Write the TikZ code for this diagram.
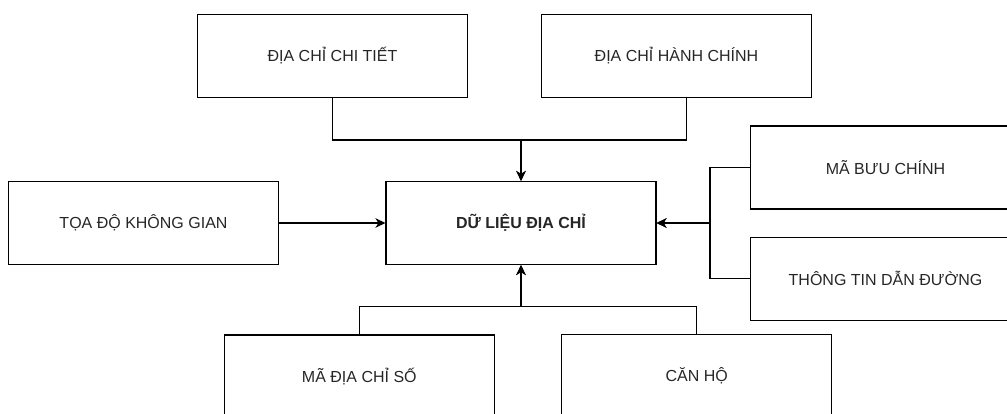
\documentclass[tikz,border=0pt]{standalone}
\usepackage{fontspec}
\setmainfont{Liberation Sans}
\usetikzlibrary{arrows.meta,calc}
\begin{document}
\begin{tikzpicture}[x=1pt,y=-1pt,
  box/.style={draw=black,line width=1.1pt,minimum width=270pt,minimum height=83pt,inner sep=0pt,
    font=\fontsize{16}{19}\selectfont,text=black!85},
  conn/.style={draw=black,line width=1.1pt},
  arr/.style={conn,-{Stealth[length=10pt,width=9.5pt,inset=3pt]}}]
\useasboundingbox (0,0) rectangle (1007,414);
\clip (0,0) rectangle (1007,414);
\node[box] (chitiet) at (332.5,56) {ĐỊA CHỈ CHI TIẾT};
\node[box] (hanhchinh) at (676.5,56) {ĐỊA CHỈ HÀNH CHÍNH};
\node[box] (toado) at (143.5,223) {TỌA ĐỘ KHÔNG GIAN};
\node[box,font=\fontsize{16}{19}\selectfont\bfseries] (dulieu) at (521,223) {DỮ LIỆU ĐỊA CHỈ};
\node[box] (buuchinh) at (885.5,167.5) {MÃ BƯU CHÍNH};
\node[box] (danduong) at (885.5,278.7) {THÔNG TIN DẪN ĐƯỜNG};
\node[box] (madiachi) at (359.3,376.5) {MÃ ĐỊA CHỈ SỐ};
\node[box] (canho) at (696.7,376) {CĂN HỘ};
\coordinate (jtop) at (521,140);
\coordinate (jright) at (710,223);
\coordinate (jbot) at (521,306.7);
\coordinate (hcout) at ($(hanhchinh.south)+(10,0)$);
\draw[arr] (chitiet.south) |- (jtop) -- (dulieu.north);
\draw[arr] (hcout) |- (jtop) -- (dulieu.north);
\draw[arr] (toado.east) -- (dulieu.west);
\draw[arr] (buuchinh.west) -| (jright) -- (dulieu.east);
\draw[arr] (danduong.west) -| (jright) -- (dulieu.east);
\draw[arr] (madiachi.north) |- (jbot) -- (dulieu.south);
\draw[arr] (canho.north) |- (jbot) -- (dulieu.south);
\end{tikzpicture}
\end{document}
